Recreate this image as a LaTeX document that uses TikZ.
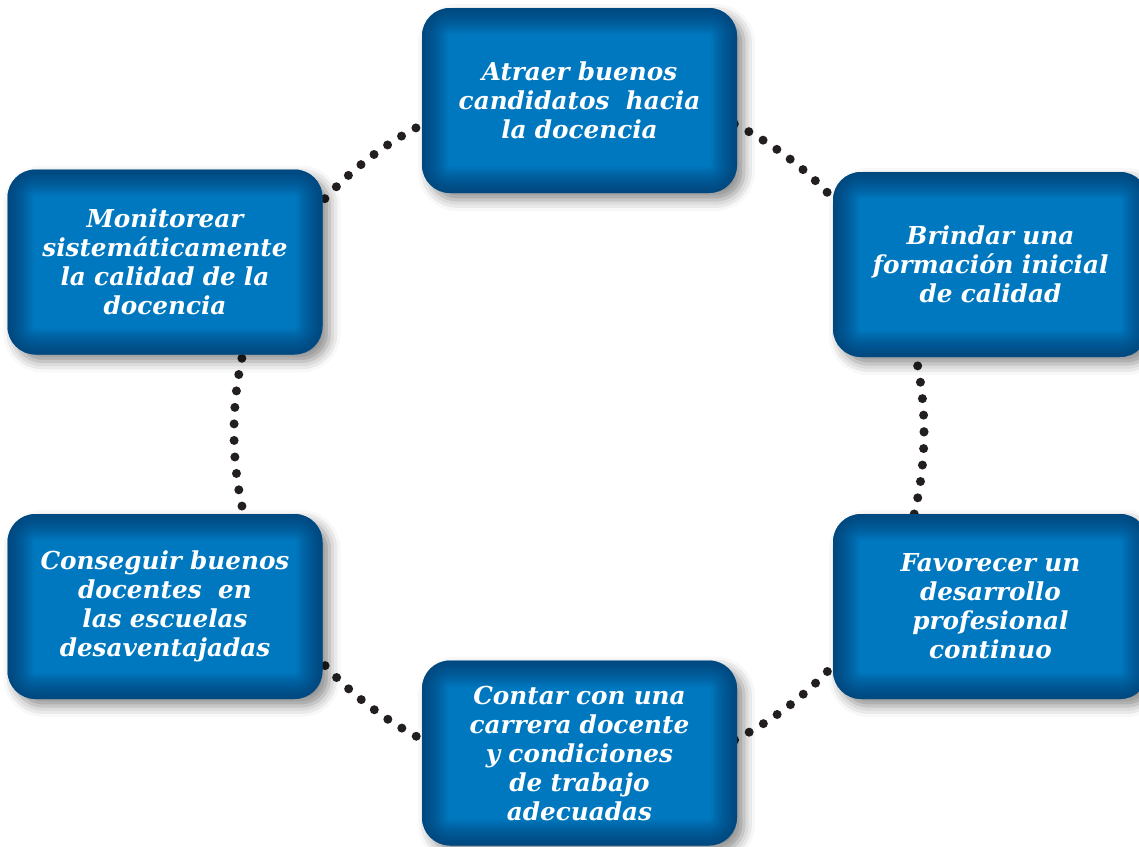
\documentclass[tikz,border=0pt]{standalone}
\usepackage{fontspec}
\setmainfont{DejaVu Serif}
\usetikzlibrary{shadows.blur}
\definecolor{boxblue}{RGB}{0,120,192}
\definecolor{boxdark}{RGB}{8,50,95}
\definecolor{dotcol}{RGB}{35,31,32}
\tikzset{
  stepbox/.style={rounded corners=28pt, minimum width=315pt, minimum height=185pt,
    inner sep=0pt, text width=310pt, align=center, fill=boxblue, text=white,
    font=\fontsize{24.7}{29}\selectfont\bfseries\itshape,
    blur shadow={shadow xshift=7pt, shadow yshift=-7pt, shadow blur radius=11pt, shadow opacity=45},
    path picture={\foreach \w in {52,48,...,2}{\draw[boxdark, draw opacity=0.07, line width=\w pt, rounded corners=28pt]
      (path picture bounding box.south west) rectangle (path picture bounding box.north east);}}},
  ring/.style={dotcol, line width=9pt, line cap=round, dash pattern=on 0pt off 16.547pt}
}
\begin{document}
\begin{tikzpicture}[x=1pt,y=-1pt]
\useasboundingbox (0,0) rectangle (1139,846);
\coordinate (c) at (579,432);
\draw[ring] (c) circle[radius=345];
\node[stepbox] (top) at (579.5,100.5) {Atraer buenos\\candidatos\ \ hacia\\la docencia};
\node[stepbox] (lu) at (165,262) {Monitorear\\sistemáticamente\\la calidad de la\\docencia};
\node[stepbox] (ru) at (990.5,264.5) {Brindar una\\formación inicial\\de calidad};
\node[stepbox] (ll) at (165,606.5) {Conseguir buenos\\docentes\ \ en\\las escuelas\\desaventajadas};
\node[stepbox] (rl) at (990.5,606.5) {Favorecer un\\desarrollo\\profesional\\continuo};
\node[stepbox] (bot) at (579.5,753) {Contar con una\\carrera docente\\y condiciones\\de trabajo\\adecuadas};
\end{tikzpicture}
\end{document}
